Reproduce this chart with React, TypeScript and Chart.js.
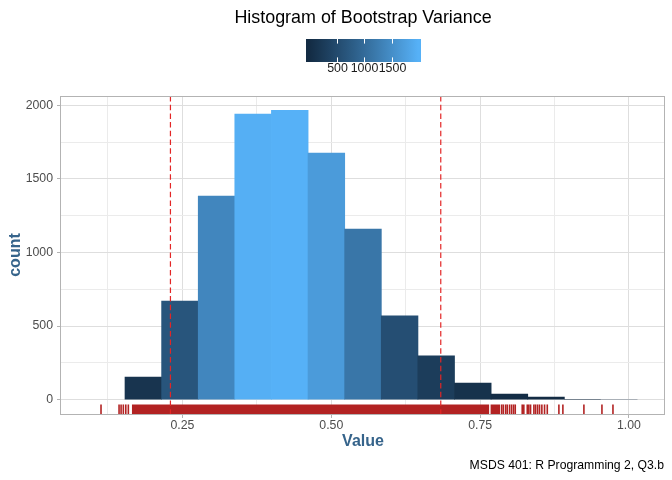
import React, { useEffect, useRef } from 'react';
import { Chart, registerables } from 'chart.js';
Chart.register(...registerables);

const FONT = "'Liberation Sans', Arial, Helvetica, sans-serif";

// histogram: bin midpoints and counts
const binMids = [0.1229, 0.1844, 0.2459, 0.3074, 0.3688, 0.4303, 0.4918, 0.5533, 0.6148, 0.6762, 0.7377, 0.7992, 0.8607, 0.9221, 0.9836];
const binCounts = [4, 153, 670, 1384, 1941, 1966, 1676, 1159, 568, 296, 112, 37, 17, 1, 2];

// 2.5% / 97.5% cut-offs (dashed lines)
const cutoffs = [0.2299, 0.6839];

// rug: single marks, and stretches where the marks run together
const rugMarks = [
  0.1133, 0.1436, 0.147, 0.1508, 0.1549, 0.1592,
  0.786, 0.7888, 0.7927, 0.7955, 0.7994, 0.8028, 0.8061, 0.809,
  0.8207, 0.8234, 0.8292, 0.8318, 0.8347, 0.8403, 0.8431, 0.8465, 0.8498, 0.8537, 0.8582, 0.8628,
  0.8823, 0.889, 0.9243, 0.9546, 0.9731
];
const rugBands = [[0.165, 0.7655], [0.7672, 0.7835]];

// colour legend
const legendBreaks = [500, 1000, 1500];
const fillLimits = [0, 1966];
const lowColour = '#132B43';
const highColour = '#56B1F7';

// axis ranges
const xRange = [0.0461, 1.0605];
const yRange = [-98.3, 2064.3];

const hexToRgb = (h: string) => [1, 3, 5].map(i => parseInt(h.slice(i, i + 2), 16));
const toLin = (c: number) => { c /= 255; return c <= 0.04045 ? c / 12.92 : Math.pow((c + 0.055) / 1.055, 2.4); };
const fromLin = (c: number) => {
  const v = c <= 0.0031308 ? 12.92 * c : 1.055 * Math.pow(c, 1 / 2.4) - 0.055;
  return Math.round(Math.min(1, Math.max(0, v)) * 255);
};
const rgbToLab = (rgb: number[]) => {
  const [R, G, B] = rgb.map(toLin);
  const X = (0.4124 * R + 0.3576 * G + 0.1805 * B) / 0.95047;
  const Y = 0.2126 * R + 0.7152 * G + 0.0722 * B;
  const Z = (0.0193 * R + 0.1192 * G + 0.9505 * B) / 1.08883;
  const f = (t: number) => (t > 216 / 24389 ? Math.cbrt(t) : (24389 / 27 * t + 16) / 116);
  const fx = f(X), fy = f(Y), fz = f(Z);
  return [116 * fy - 16, 500 * (fx - fy), 200 * (fy - fz)];
};
const labToRgb = ([L, a, b]: number[]) => {
  const fy = (L + 16) / 116, fx = fy + a / 500, fz = fy - b / 200;
  const inv = (t: number) => (t * t * t > 216 / 24389 ? t * t * t : (116 * t - 16) / (24389 / 27));
  const X = inv(fx) * 0.95047, Y = inv(fy), Z = inv(fz) * 1.08883;
  return [
    fromLin(3.2406 * X - 1.5372 * Y - 0.4986 * Z),
    fromLin(-0.9689 * X + 1.8758 * Y + 0.0415 * Z),
    fromLin(0.0557 * X - 0.204 * Y + 1.057 * Z)
  ];
};
const labLow = rgbToLab(hexToRgb(lowColour));
const labHigh = rgbToLab(hexToRgb(highColour));
const fillColour = (v: number) => {
  const t = Math.min(1, Math.max(0, (v - fillLimits[0]) / (fillLimits[1] - fillLimits[0])));
  const [r, g, b] = labToRgb(labLow.map((c, i) => c + (labHigh[i] - c) * t));
  return `rgb(${r},${g},${b})`;
};

const isMajorX = (v: number) => Math.abs(v / 0.25 - Math.round(v / 0.25)) < 1e-6;
const isMajorY = (v: number) => Math.abs(v / 500 - Math.round(v / 500)) < 1e-6;

const decorations = {
  id: 'decorations',
  afterDatasetsDraw(chart: any) {
    const { ctx, chartArea: a, scales: { x } } = chart;
    ctx.save();
    ctx.strokeStyle = '#E32626';
    ctx.lineWidth = 1.2;
    ctx.setLineDash([5.5, 3.2]);
    cutoffs.forEach(v => {
      const px = x.getPixelForValue(v);
      ctx.beginPath();
      ctx.moveTo(px, a.top);
      ctx.lineTo(px, a.bottom);
      ctx.stroke();
    });
    ctx.restore();
  },
  afterDraw(chart: any) {
    const { ctx, chartArea: a } = chart;
    ctx.save();
    // panel border
    ctx.strokeStyle = '#B3B3B3';
    ctx.lineWidth = 1;
    ctx.strokeRect(a.left - 0.5, a.top + 0.5, a.right - a.left, a.bottom - a.top);

    // title
    ctx.fillStyle = '#000';
    ctx.textAlign = 'center';
    ctx.textBaseline = 'alphabetic';
    ctx.font = `17.9px ${FONT}`;
    ctx.fillText('Histogram of Bootstrap Variance', (a.left + a.right) / 2, 23);

    // colour bar
    const bar = { left: 306, top: 39, width: 115, height: 23 };
    const nbin = 20;
    const [lo, hi] = fillLimits;
    const frac = (v: number) => (0.5 + ((v - lo) / (hi - lo)) * (nbin - 1)) / nbin;
    const grad = ctx.createLinearGradient(bar.left, 0, bar.left + bar.width, 0);
    for (let i = 0; i <= 10; i++) {
      const v = lo + (i / 10) * (hi - lo);
      grad.addColorStop(frac(v), fillColour(v));
    }
    ctx.fillStyle = grad;
    ctx.fillRect(bar.left, bar.top, bar.width, bar.height);
    ctx.strokeStyle = '#FFFFFF';
    ctx.lineWidth = 1;
    ctx.font = `12.4px ${FONT}`;
    ctx.fillStyle = '#1A1A1A';
    legendBreaks.forEach(v => {
      const px = Math.round(bar.left + frac(v) * bar.width) + 0.5;
      ctx.beginPath();
      ctx.moveTo(px, bar.top);
      ctx.lineTo(px, bar.top + bar.height / 5);
      ctx.moveTo(px, bar.top + bar.height);
      ctx.lineTo(px, bar.top + bar.height - bar.height / 5);
      ctx.stroke();
      ctx.fillText(String(v), px, 71.5);
    });

    // caption
    ctx.fillStyle = '#000';
    ctx.textAlign = 'right';
    ctx.font = `12.2px ${FONT}`;
    ctx.fillText('MSDS 401: R Programming 2, Q3.b', a.right - 1, 469);
    ctx.restore();
  }
};

const tickFont = { family: FONT, size: 12.3 };
const titleColour = '#36648B';

export default function App() {
  const canvasRef = useRef<HTMLCanvasElement>(null);

  useEffect(() => {
    document.body.style.margin = '0';
    const chart = new Chart(canvasRef.current as HTMLCanvasElement, {
      type: 'bar',
      data: {
        datasets: [
          {
            type: 'bar',
            data: binMids.map((x, i) => ({ x, y: binCounts[i] })),
            backgroundColor: binCounts.map(fillColour),
            borderWidth: 0,
            // close the anti-aliasing seams, but keep near-empty bins as thin as they are
            inflateAmount: (c: any) => (c.raw && c.raw.y > 10 ? 0.4 : 0),
            barPercentage: 1,
            categoryPercentage: 1,
            yAxisID: 'y'
          },
          ...rugBands.map(([from, to]) => ({
            type: 'line',
            data: [{ x: from, y: 0.03 }, { x: to, y: 0.03 }],
            borderWidth: 0,
            pointRadius: 0,
            backgroundColor: '#B22222',
            fill: 'origin',
            yAxisID: 'yRug'
          })),
          {
            type: 'scatter',
            data: rugMarks.map(x => ({ x, y: 0.015 })),
            pointStyle: 'line',
            rotation: 90,
            radius: 4.77,
            borderColor: '#B22222',
            borderWidth: 1.6,
            yAxisID: 'yRug'
          }
        ] as any
      },
      options: {
        animation: false,
        responsive: false,
        events: [],
        layout: { padding: { top: 96, right: 7, bottom: 30, left: 0 } },
        plugins: { legend: { display: false }, tooltip: { enabled: false }, title: { display: false } },
        scales: {
          x: {
            type: 'linear',
            min: xRange[0],
            max: xRange[1],
            offset: false,
            border: { display: false },
            grid: {
              offset: false,
              color: (c: any) => (c.tick && isMajorX(c.tick.value) ? '#DEDEDE' : '#EBEBEB'),
              lineWidth: 1,
              tickLength: 4,
              tickColor: (c: any) => (c.tick && isMajorX(c.tick.value) ? '#B3B3B3' : 'rgba(0,0,0,0)')
            },
            ticks: {
              stepSize: 0.125,
              includeBounds: false,
              autoSkip: false,
              maxRotation: 0,
              padding: 0,
              color: '#4D4D4D',
              font: tickFont,
              callback: (v: any) => (isMajorX(Number(v)) ? Number(v).toFixed(2) : '')
            },
            title: {
              display: true,
              text: 'Value',
              color: titleColour,
              font: { family: FONT, size: 16, weight: 'bold', lineHeight: 1 },
              padding: { top: 0, bottom: 0 }
            },
            afterFit: (s: any) => { s.height = 36; }
          },
          y: {
            type: 'linear',
            min: yRange[0],
            max: yRange[1],
            border: { display: false },
            grid: {
              color: (c: any) => (c.tick && isMajorY(c.tick.value) ? '#DEDEDE' : '#EBEBEB'),
              lineWidth: 1,
              tickLength: 4,
              tickColor: (c: any) => (c.tick && isMajorY(c.tick.value) ? '#B3B3B3' : 'rgba(0,0,0,0)')
            },
            ticks: {
              stepSize: 250,
              includeBounds: false,
              autoSkip: false,
              padding: 4,
              color: '#4D4D4D',
              font: tickFont,
              callback: (v: any) => (isMajorY(Number(v)) ? String(v) : '')
            },
            title: {
              display: true,
              text: 'count',
              color: titleColour,
              font: { family: FONT, size: 16, weight: 'bold', lineHeight: 1 },
              padding: { top: 8, bottom: 0 }
            },
            afterFit: (s: any) => { s.width = 61; }
          },
          yRug: { type: 'linear', axis: 'y', display: false, min: 0, max: 1 }
        }
      } as any,
      plugins: [decorations]
    });
    return () => chart.destroy();
  }, []);

  return <canvas ref={canvasRef} width={672} height={480} />;
}
